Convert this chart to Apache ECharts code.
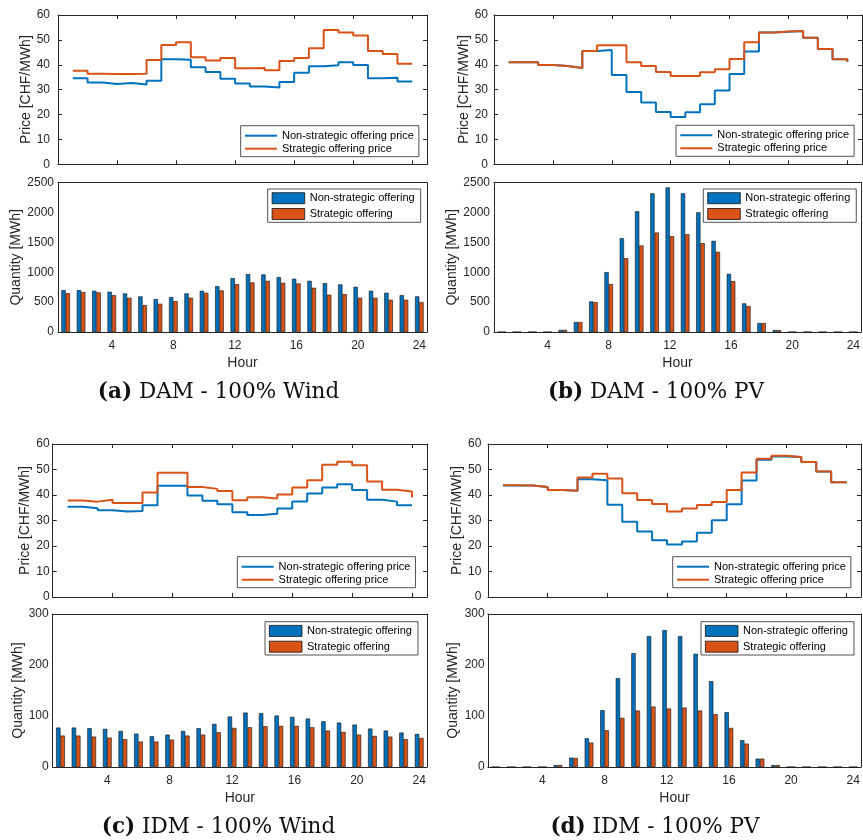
<!DOCTYPE html>
<html>
<head>
<meta charset="utf-8">
<title>Offering prices and quantities</title>
<script src="https://cdn.jsdelivr.net/npm/echarts@6/dist/echarts.min.js"></script>
<style>
  html, body { margin: 0; padding: 0; background: #fff; }
  #main { width: 863px; height: 840px; }
</style>
</head>
<body>
<div id="main"></div>
<script>
// Hours of the day (x categories)
const hours = [1, 2, 3, 4, 5, 6, 7, 8, 9, 10, 11, 12, 13, 14, 15, 16, 17, 18, 19, 20, 21, 22, 23, 24];
const hourTicks = [4, 8, 12, 16, 20, 24];

// (a) DAM - 100% Wind
const damWindPriceNonStrategic = [34.6, 32.9, 32.3, 32.7, 32.1, 33.6, 42.2, 42.0, 39.0, 37.1, 34.4, 32.5, 31.3, 30.9, 33.1, 36.8, 39.4, 39.8, 41.0, 39.9, 34.6, 34.8, 33.3, 33.3];
const damWindPriceStrategic    = [37.6, 36.4, 36.3, 36.3, 36.4, 41.9, 47.9, 49.0, 43.0, 41.7, 42.7, 38.6, 38.7, 37.8, 41.5, 42.7, 46.6, 54.0, 53.0, 51.8, 45.5, 44.3, 40.4, 40.4];
const damWindQtyNonStrategic   = [701, 701, 690, 674, 646, 596, 551, 585, 646, 690, 768, 902, 969, 963, 919, 891, 857, 818, 796, 757, 690, 657, 618, 596];
const damWindQtyStrategic      = [651, 668, 663, 618, 573, 451, 473, 518, 573, 657, 696, 802, 830, 857, 824, 813, 741, 624, 635, 573, 573, 540, 540, 501];

// (b) DAM - 100% PV
const damPvPriceNonStrategic = [41.0, 41.0, 39.9, 39.5, 38.7, 45.5, 45.9, 35.9, 29.1, 24.8, 21.0, 19.0, 20.9, 24.1, 29.7, 36.3, 45.3, 53.0, 53.3, 53.6, 50.9, 46.3, 42.2, 41.2];
const damPvPriceStrategic    = [41.0, 41.0, 39.9, 39.5, 38.7, 45.5, 47.8, 47.8, 41.0, 39.5, 37.1, 35.5, 35.5, 37.0, 38.2, 42.3, 49.0, 53.0, 53.4, 53.6, 50.9, 46.3, 42.2, 41.2];
const damPvQtyNonStrategic   = [0, 0, 0, 0, 35, 167, 512, 1002, 1570, 2021, 2322, 2422, 2322, 2004, 1526, 974, 479, 150, 33, 0, 0, 0, 0, 0];
const damPvQtyStrategic      = [0, 0, 0, 0, 35, 167, 501, 802, 1236, 1448, 1665, 1604, 1637, 1487, 1342, 852, 434, 150, 33, 0, 0, 0, 0, 0];

// (c) IDM - 100% Wind
const idmWindPriceNonStrategic = [35.4, 34.8, 34.0, 33.5, 33.7, 36.0, 43.6, 43.6, 39.8, 37.7, 36.4, 33.2, 32.2, 32.6, 34.7, 37.5, 40.6, 42.9, 44.2, 42.0, 38.1, 37.4, 36.0, 36.0];
const idmWindPriceStrategic    = [37.8, 37.4, 38.1, 36.9, 36.9, 41.0, 48.7, 48.7, 43.1, 42.4, 41.6, 37.9, 39.1, 38.6, 40.2, 42.9, 45.8, 51.9, 53.0, 51.7, 45.3, 42.1, 41.4, 39.0];
const idmWindQtyNonStrategic   = [77.3, 77.3, 76.0, 74.7, 70.7, 65.5, 60.2, 63.5, 70.7, 76.0, 84.5, 98.9, 106.7, 105.4, 100.8, 98.2, 95.0, 89.7, 87.1, 83.2, 75.4, 71.4, 67.5, 64.8];
const idmWindQtyStrategic      = [61.6, 61.6, 59.6, 57.6, 54.4, 49.8, 49.8, 53.7, 61.6, 63.5, 68.1, 76.6, 77.9, 79.9, 80.6, 80.6, 77.9, 71.4, 68.8, 63.5, 60.9, 59.6, 54.4, 57.0];

// (d) IDM - 100% PV
const idmPvPriceNonStrategic = [43.7, 43.7, 43.1, 42.0, 41.7, 46.2, 45.8, 36.2, 29.5, 25.7, 22.3, 20.6, 21.8, 25.2, 30.1, 36.4, 45.7, 53.8, 55.1, 54.9, 52.9, 49.2, 45.0, 44.6];
const idmPvPriceStrategic    = [43.8, 43.7, 43.1, 42.0, 41.7, 46.9, 48.3, 46.5, 40.7, 38.0, 36.5, 33.5, 34.7, 36.1, 37.3, 42.0, 48.8, 54.2, 55.4, 54.9, 52.9, 49.2, 45.0, 44.6];
const idmPvQtyNonStrategic   = [0, 0, 0, 0, 3.9, 18.3, 56.3, 111.3, 174.2, 223.3, 256.7, 268.5, 256.7, 222.0, 168.3, 107.4, 52.4, 16.4, 3.9, 0, 0, 0, 0, 0];
const idmPvQtyStrategic      = [0, 0, 0, 0, 3.9, 17.7, 47.8, 72.0, 96.3, 110.7, 118.5, 114.6, 116.6, 110.7, 103.5, 76.6, 45.8, 16.4, 3.9, 0, 0, 0, 0, 0];

// Captions
const captionTags  = ['(a)', '(b)', '(c)', '(d)'];
const captionTexts = ['DAM - 100% Wind', 'DAM - 100% PV', 'IDM - 100% Wind', 'IDM - 100% PV'];

const priceNames = ['Non-strategic offering price', 'Strategic offering price'];
const qtyNames   = ['Non-strategic offering', 'Strategic offering'];

const AX = '#262626';
const FONT = '"Liberation Sans", Arial, Helvetica, sans-serif';
const BLUE = '#0072BD';
const ORANGE = '#D95319';

// Layout of each panel pair (price on top, quantity below)
const layouts = [
  { l: 58,   r: 427, pt: 15,  pb: 164.3, qt: 182.7, qb: 332, qMax: 2500, qInt: 500,
    pLeg: [240.7, 125.7], qLeg: [267.7, 189], pMargin: 8, qMargin: 4, pGap: 19.5, qGap: 33.5, cap: [218.5, 392] },
  { l: 494,  r: 862, pt: 15,  pb: 164.3, qt: 182.7, qb: 332, qMax: 2500, qInt: 500,
    pLeg: [676, 125.3], qLeg: [703.3, 189], pMargin: 6, qMargin: 4, pGap: 19.5, qGap: 33.5, cap: [656, 392] },
  { l: 52.7, r: 427, pt: 444, pb: 597,   qt: 614,   qb: 767, qMax: 300, qInt: 100,
    pLeg: [237.3, 556.7], qLeg: [265, 621.7], pMargin: 3, qMargin: 4, pGap: 21, qGap: 28, cap: [218.5, 827] },
  { l: 488,  r: 861, pt: 444, pb: 597,   qt: 614,   qb: 767, qMax: 300, qInt: 100,
    pLeg: [672.7, 556.7], qLeg: [701, 621.7], pMargin: 6.7, qMargin: 3.3, pGap: 21, qGap: 28, cap: [655, 827] }
];

const panelData = [
  [damWindPriceNonStrategic, damWindPriceStrategic, damWindQtyNonStrategic, damWindQtyStrategic],
  [damPvPriceNonStrategic,   damPvPriceStrategic,   damPvQtyNonStrategic,   damPvQtyStrategic],
  [idmWindPriceNonStrategic, idmWindPriceStrategic, idmWindQtyNonStrategic, idmWindQtyStrategic],
  [idmPvPriceNonStrategic,   idmPvPriceStrategic,   idmPvQtyNonStrategic,   idmPvQtyStrategic]
];

const grid = [], xAxis = [], yAxis = [], series = [], legend = [], graphic = [];

const axisLine = { show: true, onZero: false, lineStyle: { color: AX, width: 1 } };
const tickStyle = { color: AX, width: 1 };
const showHourTick = (idx) => hourTicks.indexOf(hours[idx]) >= 0;
const plainNumber = (v) => String(v);

layouts.forEach((p, i) => {
  const [pNon, pStr, qNon, qStr] = panelData[i];
  const gP = grid.length;
  grid.push({ left: p.l, top: p.pt, width: p.r - p.l, height: p.pb - p.pt, containLabel: false });
  const gQ = grid.length;
  grid.push({ left: p.l, top: p.qt, width: p.r - p.l, height: p.qb - p.qt, containLabel: false });

  // price axes
  const xP = xAxis.length;
  xAxis.push({ gridIndex: gP, type: 'value', min: 0, max: 25, interval: 4, position: 'bottom',
    axisLine, axisTick: { inside: true, length: 4, lineStyle: tickStyle }, axisLabel: { show: false }, splitLine: { show: false } });
  xAxis.push({ gridIndex: gP, type: 'value', min: 0, max: 25, interval: 4, position: 'top',
    axisLine, axisTick: { inside: true, length: 4, lineStyle: tickStyle }, axisLabel: { show: false }, splitLine: { show: false } });
  const yP = yAxis.length;
  yAxis.push({ gridIndex: gP, type: 'value', min: 0, max: 60, interval: 10, position: 'left',
    axisLine, axisTick: { inside: true, length: 4, lineStyle: tickStyle },
    axisLabel: { fontSize: 12, color: AX, fontFamily: FONT, margin: p.pMargin, formatter: plainNumber },
    splitLine: { show: false },
    name: 'Price [CHF/MWh]', nameLocation: 'middle', nameGap: p.pGap,
    nameTextStyle: { fontSize: 14, color: AX, fontFamily: FONT } });
  yAxis.push({ gridIndex: gP, type: 'value', min: 0, max: 60, interval: 10, position: 'right',
    axisLine, axisTick: { inside: true, length: 4, lineStyle: tickStyle }, axisLabel: { show: false }, splitLine: { show: false } });

  // quantity axes
  const xQ = xAxis.length;
  xAxis.push({ gridIndex: gQ, type: 'category', data: hours, position: 'bottom', boundaryGap: true,
    axisLine, axisTick: { inside: true, length: 4, alignWithLabel: true, interval: showHourTick, lineStyle: tickStyle },
    axisLabel: { interval: showHourTick, fontSize: 12, color: AX, fontFamily: FONT, margin: 8 },
    splitLine: { show: false },
    name: 'Hour', nameLocation: 'middle', nameGap: 24,
    nameTextStyle: { fontSize: 14, color: AX, fontFamily: FONT } });
  xAxis.push({ gridIndex: gQ, type: 'category', data: hours, position: 'top', boundaryGap: true,
    axisLine, axisTick: { inside: true, length: 4, alignWithLabel: true, interval: showHourTick, lineStyle: tickStyle },
    axisLabel: { show: false }, splitLine: { show: false } });
  const yQ = yAxis.length;
  yAxis.push({ gridIndex: gQ, type: 'value', min: 0, max: p.qMax, interval: p.qInt, position: 'left',
    axisLine, axisTick: { inside: true, length: 4, lineStyle: tickStyle },
    axisLabel: { fontSize: 12, color: AX, fontFamily: FONT, margin: p.qMargin, formatter: plainNumber },
    splitLine: { show: false },
    name: 'Quantity [MWh]', nameLocation: 'middle', nameGap: p.qGap,
    nameTextStyle: { fontSize: 14, color: AX, fontFamily: FONT } });
  yAxis.push({ gridIndex: gQ, type: 'value', min: 0, max: p.qMax, interval: p.qInt, position: 'right',
    axisLine, axisTick: { inside: true, length: 4, lineStyle: tickStyle }, axisLabel: { show: false }, splitLine: { show: false } });

  // price stairs
  [[pNon, BLUE, priceNames[0]], [pStr, ORANGE, priceNames[1]]].forEach(([arr, c, name], k) => {
    series.push({ type: 'line', name, xAxisIndex: xP, yAxisIndex: yP, step: 'end', symbol: 'none',
      data: hours.map((h, j) => [h, arr[j]]), z: 3 + k,
      lineStyle: { color: c, width: 2 }, itemStyle: { color: c } });
  });

  // quantity bars
  [[qNon, BLUE, qtyNames[0]], [qStr, ORANGE, qtyNames[1]]].forEach(([arr, c, name]) => {
    series.push({ type: 'bar', name, xAxisIndex: xQ, yAxisIndex: yQ, data: arr,
      barWidth: '28%', barGap: '0%',
      itemStyle: { color: c, borderColor: '#111', borderWidth: 0.6 } });
  });

  // legends
  legend.push({ data: priceNames, orient: 'vertical', left: p.pLeg[0], top: p.pLeg[1],
    padding: [3.5, 5, 1.5, 4.3], itemGap: 0, itemWidth: 32, itemHeight: 2, icon: 'rect',
    itemStyle: { borderWidth: 0 },
    textStyle: { fontSize: 11, color: '#000', fontFamily: FONT, lineHeight: 13 },
    borderColor: AX, borderWidth: 0.8, backgroundColor: '#fff', selectedMode: false });
  legend.push({ data: qtyNames, orient: 'vertical', left: p.qLeg[0], top: p.qLeg[1],
    padding: [3.3, 6, 2.4, 4], itemGap: 4, itemWidth: 32.6, itemHeight: 11, icon: 'rect',
    itemStyle: { borderColor: '#111', borderWidth: 0.8 },
    textStyle: { fontSize: 11, color: '#000', fontFamily: FONT, lineHeight: 11 },
    borderColor: AX, borderWidth: 0.8, backgroundColor: '#fff', selectedMode: false });

  // caption
  graphic.push({ type: 'text', x: p.cap[0], y: p.cap[1],
    style: { text: '{b|' + captionTags[i] + '} ' + captionTexts[i],
      fontFamily: '"DejaVu Serif", serif', fontSize: 21.5, fill: '#111',
      align: 'center', verticalAlign: 'middle',
      rich: { b: { fontFamily: '"DejaVu Serif", serif', fontSize: 21.5, fontWeight: 'bold', fill: '#111' } } } });
});

const chart = echarts.init(document.getElementById('main'), null, { renderer: 'canvas' });
chart.setOption({
  animation: false,
  backgroundColor: '#fff',
  textStyle: { fontFamily: FONT },
  grid, xAxis, yAxis, series, legend, graphic
});
</script>
</body>
</html>
